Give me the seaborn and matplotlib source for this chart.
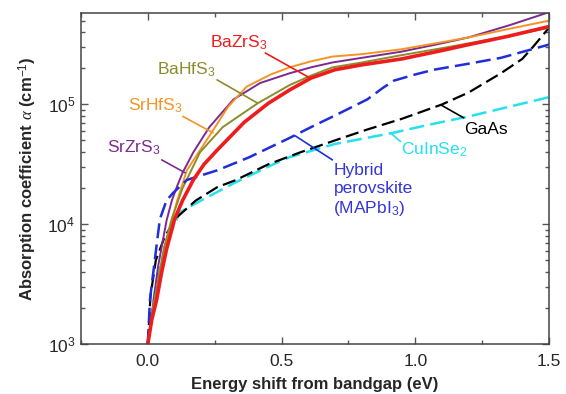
import numpy as np
import pandas as pd
import seaborn as sns
import matplotlib.pyplot as plt
from matplotlib.ticker import MultipleLocator, LogLocator

# values (energy shift in eV, alpha in cm^-1)
bazrs3_x = [0, .015, .033, .05, .07, .10, .13, .17, .21, .26, .36, .45, .53, .61, .70, .80, .95, 1.1, 1.2, 1.35, 1.5]
bazrs3_y = [1000, 1600, 2340, 3800, 6170, 11000, 15800, 23400, 31600, 41700, 70800, 102000, 132000, 166000,
            195000, 214000, 240000, 282000, 316000, 372000, 447000]

bahfs3_x = [0, .02, .04, .06, .09, .13, .195, .28, .41, .53, .61, .69, .80, .945, 1.1, 1.2, 1.35, 1.5]
bahfs3_y = [1000, 2000, 3550, 6310, 11200, 20000, 39800, 64600, 102000, 145000, 174000, 204000, 224000,
            257000, 295000, 324000, 372000, 437000]

srhfs3_x = [0, .02, .05, .08, .11, .146, .19, .24, .30, .37, .46, .53, .61, .69, .80, .945, 1.1, 1.2, 1.35, 1.5]
srhfs3_y = [1000, 2000, 4470, 8910, 15800, 28200, 39800, 58900, 95500, 141000, 178000, 204000, 229000,
            251000, 263000, 288000, 331000, 363000, 427000, 501000]

srzrs3_x = [0, .015, .038, .055, .07, .09, .11, .13, .17, .23, .32, .42, .53, .61, .69, .80, .945, 1.1, 1.2, 1.35, 1.5]
srzrs3_y = [1000, 1780, 4370, 7080, 10700, 15800, 20900, 26900, 39800, 64600, 110000, 151000, 182000,
            204000, 224000, 245000, 275000, 324000, 363000, 457000, 589000]

mapbi3_x = [0, .008, .026, .045, .07, .094, .146, .26, .38, .53, .61, .72, .82, .88, .92, 1.0, 1.07, 1.2, 1.32, 1.5]
mapbi3_y = [1000, 2340, 5010, 11000, 15800, 18200, 23400, 28200, 36300, 52500, 64600, 85100, 110000,
            138000, 158000, 178000, 195000, 219000, 245000, 316000]

gaas_x = [0, .01, .03, .064, .11, .18, .26, .33, .45, .57, .7, .82, .95, 1.1, 1.2, 1.32, 1.4, 1.44, 1.5]
gaas_y = [1000, 2510, 5010, 7940, 11500, 15800, 20400, 23400, 31600, 39800, 50100, 61700, 75900, 100000,
          126000, 182000, 240000, 302000, 437000]

cis_x = [0, .03, .07, .12, .2, .32, .45, .53, .7, .91, 1.05, 1.2, 1.35, 1.5]
cis_y = [1000, 3160, 7080, 12600, 15800, 21900, 30200, 36300, 46800, 57500, 67600, 79400, 95500, 115000]

red = '#ee1c1c'
olive = '#8c8c2c'
orange = '#f59325'
purple = '#7d2a90'
blue = '#1e2ed8'
cyan = '#25e0ee'

sns.set_style("ticks")
plt.rcParams['font.family'] = ['Liberation Sans', 'DejaVu Sans']
plt.rcParams['mathtext.fontset'] = 'custom'
plt.rcParams['mathtext.rm'] = 'Liberation Sans'
plt.rcParams['mathtext.it'] = 'Liberation Serif:italic'
plt.rcParams['mathtext.bf'] = 'Liberation Sans:bold'

fig = plt.figure(figsize=(5.66, 3.94), dpi=100)
ax = fig.add_axes([0.143, 0.127, 0.827, 0.840])

dash = (0, (6, 2.5))
sns.lineplot(x=cis_x, y=cis_y, ax=ax, color=cyan, lw=1.8, linestyle=dash, sort=False, estimator=None)
sns.lineplot(x=gaas_x, y=gaas_y, ax=ax, color='black', lw=1.6, linestyle=dash, sort=False, estimator=None)
sns.lineplot(x=srzrs3_x, y=srzrs3_y, ax=ax, color=purple, lw=1.4, sort=False, estimator=None)
sns.lineplot(x=srhfs3_x, y=srhfs3_y, ax=ax, color=orange, lw=1.4, sort=False, estimator=None)
sns.lineplot(x=bahfs3_x, y=bahfs3_y, ax=ax, color=olive, lw=1.4, sort=False, estimator=None)
sns.lineplot(x=mapbi3_x, y=mapbi3_y, ax=ax, color=blue, lw=1.8, linestyle=dash, sort=False, estimator=None)
sns.lineplot(x=bazrs3_x, y=bazrs3_y, ax=ax, color=red, lw=2.6, sort=False, estimator=None)

ax.set_yscale('log')
ax.set_xlim(-0.25, 1.5)
ax.set_ylim(1e3, 5.8e5)
ax.xaxis.set_major_locator(MultipleLocator(0.5))
ax.xaxis.set_minor_locator(MultipleLocator(0.25))
ax.yaxis.set_minor_locator(LogLocator(base=10, subs=np.arange(2, 10), numticks=20))
ax.tick_params(which='both', direction='in', top=True, right=True, bottom=True, left=True,
               color='#555555', width=1.0)
ax.tick_params(which='major', length=5, labelsize=12.5)
ax.tick_params(which='minor', length=3)
ax.tick_params(axis='x', pad=7)
ax.tick_params(axis='y', pad=4)
for s in ax.spines.values():
    s.set_color('#444444')
    s.set_linewidth(1.1)

ax.set_xlabel('Energy shift from bandgap (eV)', fontsize=12, fontweight='bold', labelpad=6)
ax.set_ylabel(r'Absorption coefficient $\alpha$ (cm$^{-1}$)', fontsize=12, fontweight='bold', labelpad=6)

fs = 12.5
# label, text pos, line start, line end, colour
notes = [
    ('BaZrS$_3$', (0.232, 10**5.515), (0.439, 10**5.43), (0.607, 10**5.22), red),
    ('BaHfS$_3$', (0.034, 10**5.29), (0.259, 10**5.205), (0.409, 10**5.013), olive),
    ('SrHfS$_3$', (-0.075, 10**4.99), (0.131, 10**4.90), (0.244, 10**4.763), orange),
    ('SrZrS$_3$', (-0.154, 10**4.64), (0.052, 10**4.537), (0.139, 10**4.43), purple),
    ('GaAs', (1.181, 10**4.79), (1.181, 10**4.888), (1.095, 10**4.997), 'black'),
    ('CuInSe$_2$', (0.945, 10**4.62), (0.945, 10**4.69), (0.907, 10**4.763), cyan),
]
for txt, tpos, p0, p1, c in notes:
    ax.text(tpos[0], tpos[1], txt, color=c, fontsize=fs, ha='left', va='center')
    ax.plot([p0[0], p1[0]], [p0[1], p1[1]], color=c, lw=1.2)

ax.text(0.694, 10**4.512, 'Hybrid\nperovskite\n(MAPbI$_3$)', color='#3535d8', fontsize=fs,
        ha='left', va='top', linespacing=1.25)
ax.plot([0.69, 0.551], [10**4.537, 10**4.738], color=blue, lw=1.2)

fig.savefig('out.png', dpi=100)
